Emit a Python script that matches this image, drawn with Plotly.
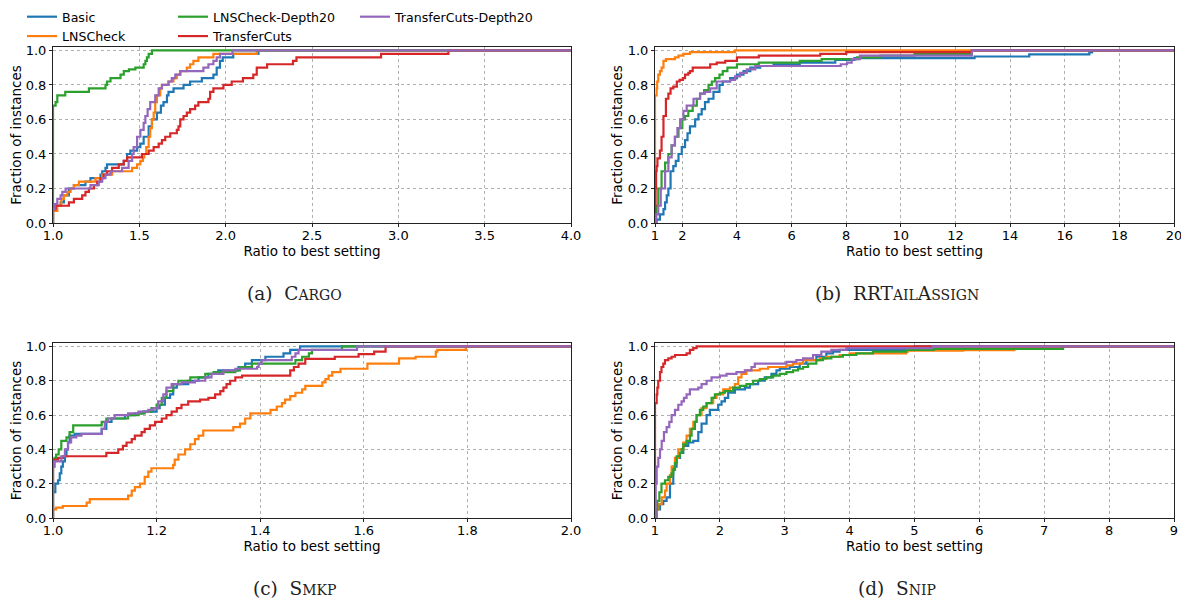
import plotly.graph_objects as go

# ---------------- DATA ----------------
SERIES = ["Basic", "LNSCheck", "LNSCheck-Depth20", "TransferCuts", "TransferCuts-Depth20"]
COLORS = ["#1f77b4", "#ff7f0e", "#2ca02c", "#d62728", "#9467bd"]

# (a) Cargo
cargo_basic_x = [1.0, 1.0, 1.021, 1.044, 1.063, 1.092, 1.121, 1.188, 1.217, 1.275, 1.285, 1.304, 1.313, 1.41, 1.429, 1.448, 1.487, 1.506, 1.525, 1.554, 1.573, 1.602, 1.625, 1.64, 1.66, 1.669, 1.698, 1.756, 1.794, 1.862, 1.929, 1.948, 1.967, 1.983, 2.044, 2.19]
cargo_basic_y = [0.0, 0.08, 0.10, 0.12, 0.16, 0.20, 0.22, 0.24, 0.26, 0.28, 0.30, 0.32, 0.34, 0.36, 0.40, 0.42, 0.44, 0.46, 0.50, 0.56, 0.60, 0.64, 0.68, 0.70, 0.74, 0.76, 0.78, 0.80, 0.82, 0.84, 0.86, 0.90, 0.94, 0.96, 0.98, 1.0]
cargo_lns_x = [1.0, 1.0, 1.025, 1.048, 1.063, 1.083, 1.102, 1.121, 1.15, 1.246, 1.285, 1.342, 1.458, 1.487, 1.506, 1.521, 1.529, 1.54, 1.554, 1.563, 1.573, 1.583, 1.592, 1.602, 1.621, 1.631, 1.669, 1.698, 1.717, 1.737, 1.775, 1.794, 1.813, 1.842, 1.929, 2.18]
cargo_lns_y = [0.0, 0.07, 0.10, 0.14, 0.16, 0.18, 0.20, 0.22, 0.24, 0.26, 0.28, 0.30, 0.32, 0.34, 0.36, 0.38, 0.40, 0.44, 0.50, 0.55, 0.60, 0.64, 0.70, 0.74, 0.78, 0.80, 0.82, 0.84, 0.86, 0.88, 0.90, 0.92, 0.94, 0.96, 0.98, 1.0]
cargo_lnsd_x = [1.0, 1.0, 1.015, 1.025, 1.071, 1.208, 1.304, 1.313, 1.333, 1.391, 1.41, 1.44, 1.477, 1.525, 1.535, 1.544, 1.554, 1.573]
cargo_lnsd_y = [0.0, 0.68, 0.70, 0.74, 0.76, 0.78, 0.80, 0.82, 0.84, 0.86, 0.88, 0.89, 0.90, 0.92, 0.94, 0.96, 0.98, 1.0]
cargo_tc_x = [1.0, 1.0, 1.015, 1.092, 1.121, 1.169, 1.188, 1.208, 1.237, 1.256, 1.275, 1.294, 1.313, 1.342, 1.381, 1.41, 1.429, 1.515, 1.554, 1.583, 1.612, 1.631, 1.65, 1.679, 1.717, 1.727, 1.737, 1.756, 1.775, 1.794, 1.823, 1.842, 1.90, 1.91, 1.929, 1.987, 2.035, 2.10, 2.16, 2.18, 2.24, 2.39, 2.41, 2.90, 3.29]
cargo_tc_y = [0.0, 0.08, 0.10, 0.12, 0.14, 0.16, 0.18, 0.20, 0.22, 0.24, 0.26, 0.28, 0.30, 0.32, 0.34, 0.36, 0.38, 0.40, 0.42, 0.44, 0.46, 0.48, 0.50, 0.52, 0.54, 0.56, 0.60, 0.62, 0.64, 0.66, 0.68, 0.70, 0.72, 0.76, 0.78, 0.80, 0.82, 0.84, 0.86, 0.90, 0.92, 0.94, 0.96, 0.98, 1.0]
cargo_tcd_x = [1.0, 1.0, 1.01, 1.025, 1.044, 1.054, 1.073, 1.217, 1.265, 1.285, 1.304, 1.333, 1.40, 1.438, 1.458, 1.467, 1.487, 1.506, 1.525, 1.535, 1.548, 1.563, 1.592, 1.612, 1.631, 1.669, 1.688, 1.708, 1.737, 1.871, 1.90, 1.929, 1.948, 1.967, 2.04]
cargo_tcd_y = [0.0, 0.08, 0.11, 0.14, 0.16, 0.18, 0.20, 0.22, 0.24, 0.26, 0.28, 0.30, 0.32, 0.36, 0.40, 0.44, 0.50, 0.54, 0.58, 0.62, 0.66, 0.70, 0.74, 0.78, 0.80, 0.82, 0.84, 0.86, 0.88, 0.90, 0.92, 0.94, 0.96, 0.98, 1.0]

# (b) RRTailAssign
rr_basic_x = [1.0, 1.06, 1.18, 1.31, 1.37, 1.43, 1.49, 1.57, 1.67, 1.76, 1.86, 1.98, 2.10, 2.19, 2.28, 2.47, 2.59, 2.71, 2.83, 2.96, 3.14, 3.36, 3.48, 3.75, 4.0, 4.24, 4.49, 4.85, 5.34, 6.3, 7.6, 8.3, 12.7, 14.7, 16.9, 17.0]
rr_basic_y = [0.0, 0.02, 0.05, 0.08, 0.12, 0.16, 0.20, 0.30, 0.33, 0.36, 0.40, 0.44, 0.48, 0.52, 0.56, 0.60, 0.63, 0.66, 0.70, 0.72, 0.76, 0.80, 0.82, 0.84, 0.86, 0.88, 0.90, 0.91, 0.92, 0.93, 0.945, 0.955, 0.965, 0.977, 0.988, 1.0]
rr_lns_x = [1.0, 1.0, 1.06, 1.08, 1.12, 1.18, 1.24, 1.31, 1.40, 1.73, 1.86, 2.04, 2.28, 3.93]
rr_lns_y = [0.0, 0.74, 0.78, 0.82, 0.86, 0.88, 0.90, 0.94, 0.95, 0.96, 0.97, 0.98, 0.99, 1.0]
rr_lnsd_x = [1.0, 1.04, 1.12, 1.24, 1.37, 1.49, 1.61, 1.73, 1.86, 2.0, 2.10, 2.22, 2.38, 2.53, 2.65, 2.80, 2.96, 3.08, 3.20, 3.36, 3.48, 3.65, 4.0, 4.8, 6.3, 7.1, 8.4, 9.25, 10.5, 12.6]
rr_lnsd_y = [0.0, 0.10, 0.20, 0.30, 0.35, 0.40, 0.45, 0.50, 0.55, 0.60, 0.62, 0.65, 0.68, 0.72, 0.75, 0.77, 0.80, 0.82, 0.84, 0.86, 0.88, 0.90, 0.92, 0.93, 0.94, 0.95, 0.96, 0.97, 0.98, 1.0]
rr_tc_x = [1.0, 1.0, 1.02, 1.04, 1.06, 1.09, 1.18, 1.24, 1.31, 1.40, 1.49, 1.57, 1.67, 1.80, 1.90, 2.02, 2.10, 2.22, 2.28, 2.38, 3.02, 3.26, 3.57, 4.0, 4.8, 7.05, 8.0, 12.6]
rr_tc_y = [0.0, 0.10, 0.20, 0.30, 0.33, 0.375, 0.42, 0.50, 0.62, 0.72, 0.75, 0.78, 0.79, 0.82, 0.83, 0.84, 0.86, 0.87, 0.88, 0.90, 0.92, 0.93, 0.94, 0.96, 0.97, 0.98, 0.99, 1.0]
rr_tcd_x = [1.0, 1.04, 1.12, 1.21, 1.37, 1.49, 1.61, 1.73, 1.82, 1.92, 2.04, 2.16, 2.41, 2.65, 2.83, 3.02, 3.26, 3.75, 3.93, 4.12, 4.36, 4.67, 7.8, 8.03, 8.2, 8.5, 12.6]
rr_tcd_y = [0.0, 0.05, 0.10, 0.20, 0.30, 0.38, 0.45, 0.50, 0.55, 0.60, 0.65, 0.68, 0.72, 0.75, 0.76, 0.78, 0.82, 0.83, 0.85, 0.87, 0.89, 0.91, 0.92, 0.93, 0.95, 0.97, 1.0]

# (c) Smkp
smkp_basic_x = [1.0, 1.0, 1.0045, 1.0097, 1.013, 1.016, 1.019, 1.023, 1.026, 1.029, 1.032, 1.042, 1.094, 1.103, 1.113, 1.139, 1.158, 1.174, 1.20, 1.206, 1.216, 1.226, 1.232, 1.239, 1.261, 1.281, 1.30, 1.319, 1.358, 1.371, 1.384, 1.41, 1.445, 1.458, 1.477]
smkp_basic_y = [0.0, 0.15, 0.20, 0.22, 0.26, 0.30, 0.33, 0.36, 0.40, 0.44, 0.48, 0.49, 0.52, 0.56, 0.58, 0.60, 0.61, 0.62, 0.64, 0.66, 0.70, 0.72, 0.76, 0.78, 0.80, 0.82, 0.84, 0.86, 0.88, 0.90, 0.92, 0.94, 0.96, 0.98, 1.0]
smkp_lns_x = [1.0, 1.0, 1.006, 1.019, 1.065, 1.071, 1.145, 1.152, 1.158, 1.168, 1.177, 1.184, 1.19, 1.232, 1.235, 1.242, 1.255, 1.265, 1.274, 1.281, 1.29, 1.348, 1.361, 1.371, 1.381, 1.42, 1.432, 1.442, 1.448, 1.458, 1.468, 1.481, 1.487, 1.52, 1.526, 1.532, 1.539, 1.555, 1.607, 1.668, 1.70, 1.739, 1.742, 1.797]
smkp_lns_y = [0.0, 0.05, 0.06, 0.07, 0.09, 0.11, 0.13, 0.16, 0.18, 0.20, 0.24, 0.27, 0.29, 0.31, 0.34, 0.37, 0.40, 0.43, 0.46, 0.48, 0.51, 0.53, 0.55, 0.58, 0.61, 0.63, 0.65, 0.67, 0.69, 0.71, 0.73, 0.75, 0.77, 0.79, 0.81, 0.83, 0.85, 0.87, 0.90, 0.93, 0.94, 0.97, 0.98, 1.0]
smkp_lnsd_x = [1.0, 1.0, 1.003, 1.006, 1.011, 1.016, 1.026, 1.032, 1.039, 1.094, 1.103, 1.145, 1.165, 1.177, 1.19, 1.20, 1.21, 1.219, 1.232, 1.242, 1.265, 1.294, 1.31, 1.352, 1.361, 1.384, 1.468, 1.481, 1.494, 1.50, 1.558]
smkp_lnsd_y = [0.0, 0.30, 0.35, 0.37, 0.40, 0.45, 0.47, 0.50, 0.54, 0.56, 0.58, 0.60, 0.61, 0.62, 0.64, 0.66, 0.70, 0.74, 0.78, 0.80, 0.82, 0.84, 0.85, 0.86, 0.88, 0.90, 0.92, 0.94, 0.96, 0.98, 1.0]
smkp_tc_x = [1.0, 1.0, 1.01, 1.019, 1.103, 1.126, 1.135, 1.142, 1.152, 1.158, 1.171, 1.177, 1.187, 1.197, 1.21, 1.219, 1.229, 1.239, 1.248, 1.261, 1.284, 1.30, 1.313, 1.323, 1.329, 1.335, 1.342, 1.352, 1.365, 1.458, 1.465, 1.474, 1.487, 1.544, 1.59, 1.62, 1.642]
smkp_tc_y = [0.0, 0.34, 0.35, 0.36, 0.38, 0.40, 0.42, 0.44, 0.46, 0.48, 0.50, 0.52, 0.54, 0.56, 0.58, 0.60, 0.62, 0.64, 0.66, 0.68, 0.69, 0.70, 0.72, 0.74, 0.76, 0.78, 0.80, 0.82, 0.83, 0.86, 0.88, 0.90, 0.928, 0.94, 0.955, 0.97, 1.0]
smkp_tcd_x = [1.0, 1.0, 1.002, 1.016, 1.023, 1.029, 1.035, 1.045, 1.055, 1.094, 1.10, 1.106, 1.119, 1.145, 1.165, 1.184, 1.194, 1.203, 1.213, 1.219, 1.229, 1.248, 1.274, 1.294, 1.306, 1.329, 1.352, 1.394, 1.397, 1.403, 1.461, 1.468, 1.474, 1.587]
smkp_tcd_y = [0.0, 0.30, 0.33, 0.36, 0.40, 0.44, 0.47, 0.48, 0.49, 0.52, 0.56, 0.58, 0.60, 0.61, 0.62, 0.63, 0.64, 0.68, 0.72, 0.76, 0.78, 0.79, 0.80, 0.82, 0.84, 0.86, 0.87, 0.88, 0.90, 0.92, 0.94, 0.96, 0.98, 1.0]

# (d) Snip
snip_basic_x = [1.0, 1.026, 1.077, 1.128, 1.179, 1.231, 1.282, 1.333, 1.385, 1.436, 1.513, 1.59, 1.667, 1.718, 1.795, 1.846, 1.974, 2.026, 2.077, 2.128, 2.231, 2.385, 2.462, 2.59, 2.692, 2.795, 2.872, 2.923, 3.077, 3.231, 3.333, 3.487, 3.641, 3.744, 3.846, 4.9, 5.0]
snip_basic_y = [0.0, 0.05, 0.08, 0.10, 0.12, 0.20, 0.30, 0.35, 0.38, 0.42, 0.44, 0.45, 0.50, 0.55, 0.60, 0.63, 0.66, 0.68, 0.70, 0.73, 0.75, 0.76, 0.78, 0.80, 0.82, 0.84, 0.86, 0.87, 0.88, 0.90, 0.92, 0.94, 0.96, 0.97, 0.98, 0.985, 1.0]
snip_lns_x = [1.0, 1.015, 1.051, 1.103, 1.154, 1.179, 1.231, 1.256, 1.308, 1.359, 1.436, 1.487, 1.538, 1.59, 1.641, 1.718, 1.795, 1.897, 1.949, 2.051, 2.154, 2.231, 2.282, 2.333, 2.41, 2.615, 2.744, 3.026, 3.128, 3.282, 3.538, 3.641, 3.846, 4.0, 4.872, 4.9, 5.75, 6.54]
snip_lns_y = [0.0, 0.05, 0.08, 0.12, 0.16, 0.20, 0.25, 0.30, 0.35, 0.40, 0.44, 0.48, 0.52, 0.56, 0.60, 0.64, 0.67, 0.70, 0.72, 0.75, 0.76, 0.78, 0.82, 0.84, 0.86, 0.87, 0.88, 0.89, 0.90, 0.92, 0.93, 0.94, 0.95, 0.96, 0.97, 0.975, 0.978, 1.0]
snip_lnsd_x = [1.0, 1.01, 1.036, 1.067, 1.10, 1.154, 1.205, 1.256, 1.282, 1.308, 1.333, 1.385, 1.41, 1.436, 1.487, 1.538, 1.564, 1.615, 1.641, 1.692, 1.744, 1.795, 1.872, 1.923, 2.0, 2.077, 2.205, 2.308, 2.41, 2.513, 2.615, 2.718, 2.821, 2.923, 3.026, 3.128, 3.205, 3.282, 3.359, 3.487, 3.59, 3.718, 3.897, 4.103, 4.359, 4.872, 5.3, 7.29]
snip_lnsd_y = [0.0, 0.05, 0.10, 0.15, 0.20, 0.22, 0.24, 0.26, 0.28, 0.32, 0.36, 0.38, 0.40, 0.43, 0.45, 0.48, 0.52, 0.56, 0.60, 0.63, 0.65, 0.67, 0.70, 0.72, 0.73, 0.74, 0.76, 0.77, 0.78, 0.80, 0.81, 0.82, 0.83, 0.84, 0.85, 0.86, 0.87, 0.88, 0.90, 0.92, 0.93, 0.94, 0.95, 0.96, 0.97, 0.98, 0.986, 1.0]
snip_tc_x = [1.0, 1.0, 1.026, 1.036, 1.05, 1.077, 1.10, 1.128, 1.154, 1.205, 1.256, 1.308, 1.487, 1.538, 1.59, 1.641]
snip_tc_y = [0.0, 0.67, 0.72, 0.76, 0.80, 0.85, 0.88, 0.90, 0.92, 0.93, 0.94, 0.95, 0.96, 0.98, 0.99, 1.0]
snip_tcd_x = [1.0, 1.01, 1.026, 1.051, 1.077, 1.103, 1.138, 1.179, 1.22, 1.256, 1.308, 1.359, 1.41, 1.446, 1.487, 1.538, 1.667, 1.718, 1.795, 1.872, 2.0, 2.103, 2.256, 2.385, 2.487, 2.538, 3.026, 3.179, 3.282, 3.436, 3.564, 3.718, 3.95, 5.28]
snip_tcd_y = [0.0, 0.20, 0.30, 0.35, 0.40, 0.45, 0.50, 0.53, 0.56, 0.60, 0.63, 0.66, 0.68, 0.70, 0.72, 0.75, 0.76, 0.78, 0.80, 0.82, 0.83, 0.84, 0.85, 0.86, 0.88, 0.90, 0.91, 0.92, 0.93, 0.95, 0.97, 0.98, 0.99, 1.0]

PANELS = [
    dict(name="cargo", xmax=4.0, xticks=[1.0, 1.5, 2.0, 2.5, 3.0, 3.5, 4.0], fmt=".1f",
         data=[(cargo_basic_x, cargo_basic_y), (cargo_lns_x, cargo_lns_y), (cargo_lnsd_x, cargo_lnsd_y),
               (cargo_tc_x, cargo_tc_y), (cargo_tcd_x, cargo_tcd_y)]),
    dict(name="rr", xmax=20, xticks=[1, 2, 4, 6, 8, 10, 12, 14, 16, 18, 20], fmt="d",
         data=[(rr_basic_x, rr_basic_y), (rr_lns_x, rr_lns_y), (rr_lnsd_x, rr_lnsd_y),
               (rr_tc_x, rr_tc_y), (rr_tcd_x, rr_tcd_y)]),
    dict(name="smkp", xmax=2.0, xticks=[1.0, 1.2, 1.4, 1.6, 1.8, 2.0], fmt=".1f",
         data=[(smkp_basic_x, smkp_basic_y), (smkp_lns_x, smkp_lns_y), (smkp_lnsd_x, smkp_lnsd_y),
               (smkp_tc_x, smkp_tc_y), (smkp_tcd_x, smkp_tcd_y)]),
    dict(name="snip", xmax=9, xticks=[1, 2, 3, 4, 5, 6, 7, 8, 9], fmt="d",
         data=[(snip_basic_x, snip_basic_y), (snip_lns_x, snip_lns_y), (snip_lnsd_x, snip_lnsd_y),
               (snip_tc_x, snip_tc_y), (snip_tcd_x, snip_tcd_y)]),
]
YTICKS = [0.0, 0.2, 0.4, 0.6, 0.8, 1.0]
SC = "<span style='font-size:14px'>"
CAPTIONS = [
    "(a)  C" + SC + "ARGO</span>",
    "(b)  RRT" + SC + "AIL</span>A" + SC + "SSIGN</span>",
    "(c)  S" + SC + "MKP</span>",
    "(d)  S" + SC + "NIP</span>",
]

# ---------------- LAYOUT ----------------
# The page body has an 8px margin; the figure is sized so that it fills the
# remaining window, and reference pixel positions are converted accordingly.
OFF = 8
W, H = 1189 - OFF, 601 - OFF
def fx(p):
    return (p - OFF) / W
def fy(p):
    return 1 - (p - OFF) / H

X_DOM = [(53, 571), (655, 1174), (53, 571), (655, 1174)]
Y_DOM = [(47, 223), (47, 223), (343, 518), (343, 518)]
CAP_POS = [(294, 293), (897, 293), (294, 588), (897, 588)]
LEGEND_COLS = [(22, [0, 1]), (173, [2, 3]), (355, [4])]

fig = go.Figure()
legend_of = {}
for li, (_, idxs) in enumerate(LEGEND_COLS):
    for i in idxs:
        legend_of[i] = "legend" if li == 0 else f"legend{li + 1}"

FONT = "DejaVu Sans"
for p, panel in enumerate(PANELS):
    sfx = "" if p == 0 else str(p + 1)
    for i, (xs, ys) in enumerate(panel["data"]):
        xs2 = list(xs) + [panel["xmax"]]
        ys2 = list(ys) + [ys[-1]]
        fig.add_trace(go.Scatter(
            x=xs2, y=ys2, mode="lines", line=dict(color=COLORS[i], width=2.2, shape="hv"),
            name=SERIES[i], showlegend=(p == 0), legend=legend_of[i],
            xaxis="x" + sfx, yaxis="y" + sfx, hoverinfo="skip"))
    ax = dict(
        domain=[fx(X_DOM[p][0]), fx(X_DOM[p][1])], range=[1, panel["xmax"]],
        tickvals=panel["xticks"], tickformat=panel["fmt"], anchor="y" + sfx, automargin=False,
        showline=True, linecolor="#222", linewidth=1.1, mirror=True,
        ticks="outside", ticklen=3, tickcolor="#222", tickwidth=1, ticklabelstandoff=-3,
        showgrid=True, gridcolor="#b0b0b0", griddash="dot", gridwidth=0.8,
        zeroline=False, tickfont=dict(family=FONT, size=13, color="black"),
        title=dict(text="Ratio to best setting", font=dict(family=FONT, size=13.5, color="black"), standoff=0),
    )
    ay = dict(
        domain=[fy(Y_DOM[p][1]), fy(Y_DOM[p][0])], range=[0, 1.02],
        tickvals=YTICKS, tickformat=".1f", anchor="x" + sfx, automargin=False,
        showline=True, linecolor="#222", linewidth=1.1, mirror=True,
        ticks="outside", ticklen=3, tickcolor="#222", tickwidth=1,
        showgrid=True, gridcolor="#b0b0b0", griddash="dot", gridwidth=0.8,
        zeroline=False, tickfont=dict(family=FONT, size=13, color="black"),
        title=dict(text="Fraction of instances", font=dict(family=FONT, size=13.5, color="black"), standoff=1),
    )
    fig.update_layout(**{"xaxis" + sfx: ax, "yaxis" + sfx: ay})
    fig.add_annotation(text=CAPTIONS[p], x=fx(CAP_POS[p][0]), y=fy(CAP_POS[p][1]),
                       xref="paper", yref="paper", showarrow=False, xanchor="center", yanchor="middle",
                       font=dict(family="DejaVu Serif", size=18.5, color="#222"))

leg_common = dict(orientation="v", yanchor="top", xanchor="left", bgcolor="rgba(0,0,0,0)",
                  font=dict(family=FONT, size=12.6, color="black"), tracegroupgap=0, itemwidth=30)
legends = {}
for li, (xpx, _) in enumerate(LEGEND_COLS):
    key = "legend" if li == 0 else f"legend{li + 1}"
    legends[key] = dict(leg_common, x=fx(xpx), y=fy(OFF - 6))
fig.update_layout(**legends)

fig.update_layout(width=W, height=H, margin=dict(l=0, r=0, t=0, b=0, autoexpand=False),
                  paper_bgcolor="white", plot_bgcolor="white", showlegend=True)
fig.write_html("out.html")
